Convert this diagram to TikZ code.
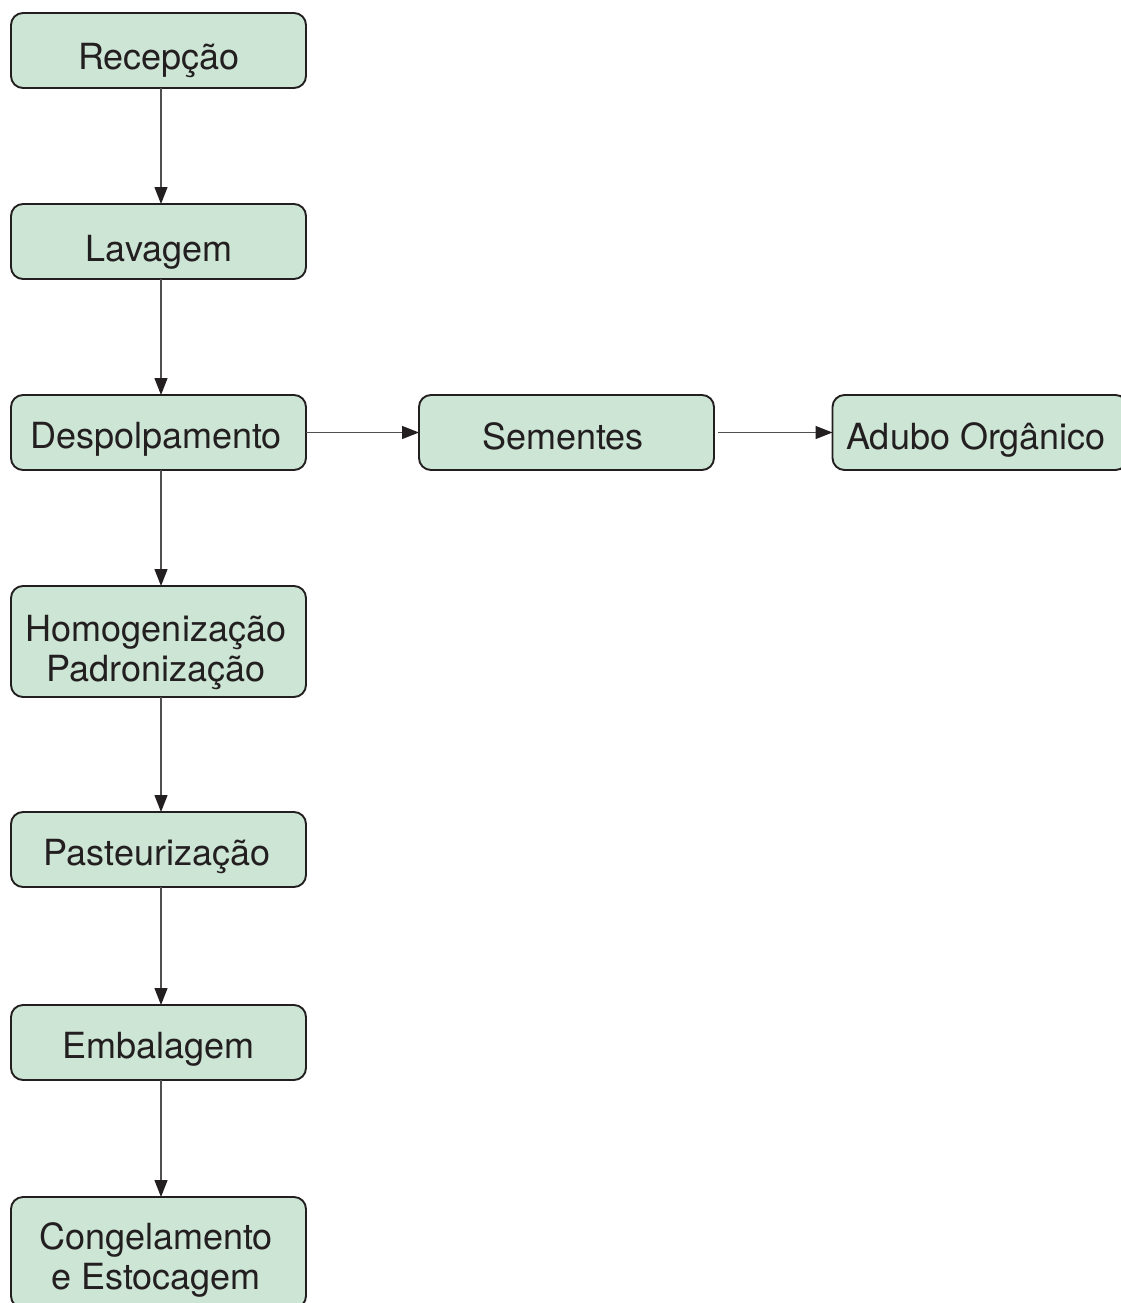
\documentclass[tikz,border=0pt]{standalone}
\usepackage{fontspec}
\setmainfont{TeX Gyre Heros}
\usetikzlibrary{arrows.meta}
\definecolor{boxfill}{HTML}{CCE5D4}
\definecolor{boxline}{HTML}{231F20}
\definecolor{arrline}{HTML}{505050}
\begin{document}
\begin{tikzpicture}[x=1pt,y=-1pt,
  box/.style={draw=boxline, fill=boxfill, line width=1.9pt, rounded corners=12pt,
    minimum width=295pt, minimum height=75pt, inner sep=0pt, outer sep=0pt},
  lbl/.style={anchor=base, inner sep=0pt, font=\fontsize{36}{39.5}\selectfont,
    text=boxline, align=center},
  flow/.style={draw=arrline, line width=1.3pt,
    -{Triangle[length=17pt,width=13pt,color=boxline]}}
]
\useasboundingbox (0,0) rectangle (1120,1303);

\node[box] (rec) at (158.5,50.5) {};
\node[lbl] (trec) at (159,70) {Recepção};

\node[box] (lav) at (158.5,241.5) {};
\node[lbl] (tlav) at (159,261) {Lavagem};

\node[box] (desp) at (158.5,432.5) {};
\node[lbl] (tdesp) at (156,448) {Despolpamento};

\node[box] (sem) at (566.5,432.5) {};
\node[lbl] (tsem) at (563,449) {Sementes};

\node[box] (adu) at (980,432.5) {};
\node[lbl] (tadu) at (976,449) {Adubo Orgânico};

\node[box, minimum height=111pt] (hom) at (158.5,641.5) {};
\node[lbl] (thom) at (156,681) {Homogenização\\Padronização};

\node[box] (pas) at (158.5,849.5) {};
\node[lbl] (tpas) at (157,865) {Pasteurização};

\node[box] (emb) at (158.5,1042.5) {};
\node[lbl] (temb) at (158.5,1058) {Embalagem};

\node[box, minimum height=111pt] (con) at (158.5,1252.5) {};
\node[lbl] (tcon) at (156,1289) {Congelamento\\e Estocagem};

\draw[flow] ([xshift=2.5pt]rec.south) -- ([xshift=2.5pt]lav.north);
\draw[flow] ([xshift=2.5pt]lav.south) -- ([xshift=2.5pt]desp.north);
\draw[flow] ([xshift=2.5pt]desp.south) -- ([xshift=2.5pt]hom.north);
\draw[flow] ([xshift=2.5pt]hom.south) -- ([xshift=2.5pt]pas.north);
\draw[flow] ([xshift=2.5pt]pas.south) -- ([xshift=2.5pt]emb.north);
\draw[flow] ([xshift=2.5pt]emb.south) -- ([xshift=2.5pt]con.north);
\draw[flow] (desp) -- (sem);
\draw[flow, shorten <=4pt] (sem) -- (adu);
\end{tikzpicture}
\end{document}
